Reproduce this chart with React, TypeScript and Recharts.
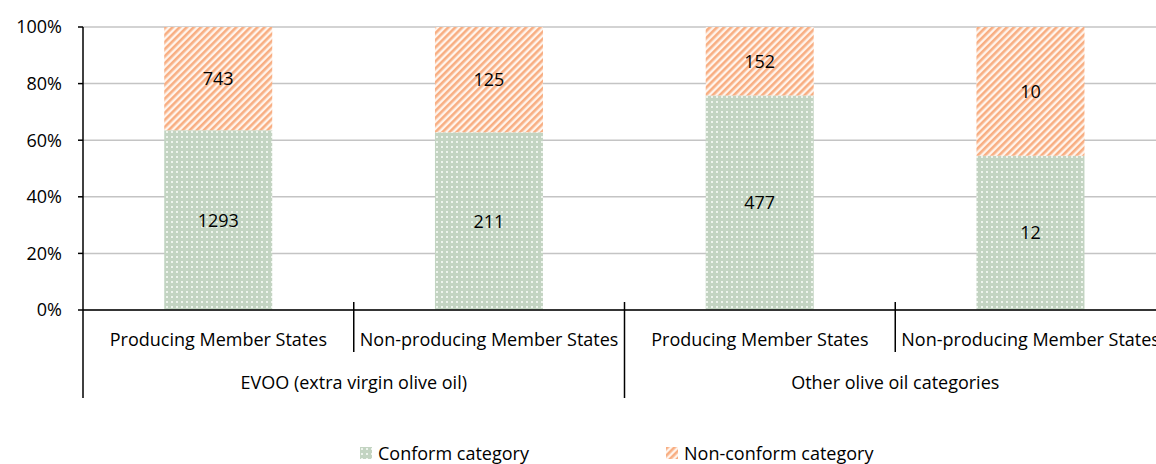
import { Bar, BarChart, CartesianGrid, LabelList, XAxis, YAxis } from "recharts"

const groups = ["EVOO (extra virgin olive oil)", "Other olive oil categories"]
const memberStates = [
  "Producing Member States",
  "Non-producing Member States",
  "Producing Member States",
  "Non-producing Member States",
]
const groupOf = [0, 0, 1, 1]
const conform = [1293, 211, 477, 12]
const nonConform = [743, 125, 152, 10]
const yTicks = [0, 0.2, 0.4, 0.6, 0.8, 1]
const seriesNames = ["Conform category", "Non-conform category"]

const data = memberStates.map((name, i) => ({
  key: String(i),
  name,
  conform: conform[i],
  nonConform: nonConform[i],
}))

const FONT = "'Open Sans', sans-serif"
const CHART_W = 1166
const CHART_H = 464
const LEFT = 83
const TOP = 27
const AXIS_Y = 310
const X_AXIS_H = 90
const BAND = (CHART_W - LEFT) / data.length

function CategoryTick(props: any) {
  const { x, payload } = props
  const i = Number(payload.value)
  const left = x - BAND / 2
  const first = i === 0 || groupOf[i] !== groupOf[i - 1]
  const count = groupOf.filter((g) => g === groupOf[i]).length
  return (
    <g>
      {first ? (
        <line x1={left} x2={left} y1={i === 0 ? AXIS_Y : AXIS_Y - 8} y2={398} stroke="#000" strokeWidth={1.5} />
      ) : (
        <line x1={left} x2={left} y1={AXIS_Y - 8} y2={352} stroke="#000" strokeWidth={1.5} />
      )}
      <text x={x} y={339} textAnchor="middle" dominantBaseline="central" fontSize={18} fill="#000" fontFamily={FONT}>
        {memberStates[i]}
      </text>
      {first && (
        <text
          x={left + (count * BAND) / 2}
          y={382}
          textAnchor="middle"
          dominantBaseline="central"
          fontSize={18}
          fill="#000"
          fontFamily={FONT}
        >
          {groups[groupOf[i]]}
        </text>
      )}
    </g>
  )
}

function Swatch({ fill }: { fill: string }) {
  return (
    <svg width={12} height={12} style={{ display: "block" }}>
      <rect width={12} height={12} fill={fill} />
    </svg>
  )
}

export default function App() {
  return (
    <div style={{ position: "absolute", left: 0, top: 0, width: 1156, height: 464, overflow: "hidden", background: "#fff" }}>
      <svg width={0} height={0} style={{ position: "absolute" }}>
        <defs>
          <pattern id="dots" patternUnits="userSpaceOnUse" width={5} height={5}>
            <rect width={5} height={5} fill="#c3d4c2" />
            <rect x={1} y={1} width={2} height={2} fill="#eef4ed" />
          </pattern>
          <pattern id="stripes" patternUnits="userSpaceOnUse" width={5} height={5} patternTransform="rotate(45)">
            <rect width={5} height={5} fill="#fff4ec" />
            <rect width={2.6} height={5} fill="#f8ae82" />
          </pattern>
        </defs>
      </svg>
      <BarChart
        width={CHART_W}
        height={CHART_H}
        data={data}
        stackOffset="expand"
        barCategoryGap="30%"
        margin={{ top: TOP, right: 0, bottom: CHART_H - AXIS_Y - X_AXIS_H, left: 0 }}
      >
        <CartesianGrid vertical={false} stroke="#c4c4c4" strokeWidth={1.5} />
        <XAxis
          dataKey="key"
          tickLine={false}
          axisLine={{ stroke: "#000", strokeWidth: 1.5 }}
          tick={<CategoryTick />}
          interval={0}
          height={X_AXIS_H}
        />
        <YAxis
          width={LEFT}
          domain={[0, 1]}
          ticks={yTicks}
          tickFormatter={(v) => `${Math.round(v * 100)}%`}
          axisLine={{ stroke: "#000", strokeWidth: 1.5 }}
          tickLine={{ stroke: "#000", strokeWidth: 1.5 }}
          tickSize={5}
          tickMargin={16}
          tick={{ fill: "#000", fontSize: 18, fontFamily: FONT }}
        />
        <Bar dataKey="conform" name={seriesNames[0]} stackId="a" fill="url(#dots)" isAnimationActive={false}>
          <LabelList dataKey="conform" position="center" fill="#000" fontSize={18} fontFamily={FONT} />
        </Bar>
        <Bar dataKey="nonConform" name={seriesNames[1]} stackId="a" fill="url(#stripes)" isAnimationActive={false}>
          <LabelList dataKey="nonConform" position="center" fill="#000" fontSize={18} fontFamily={FONT} />
        </Bar>
      </BarChart>
      <div
        style={{
          position: "absolute",
          top: 443,
          left: 360,
          display: "flex",
          alignItems: "center",
          fontFamily: FONT,
          fontSize: 18,
          color: "#000",
          lineHeight: "20px",
        }}
      >
        <Swatch fill="url(#dots)" />
        <span style={{ marginLeft: 6, width: 288 }}>{seriesNames[0]}</span>
        <Swatch fill="url(#stripes)" />
        <span style={{ marginLeft: 6 }}>{seriesNames[1]}</span>
      </div>
    </div>
  )
}
